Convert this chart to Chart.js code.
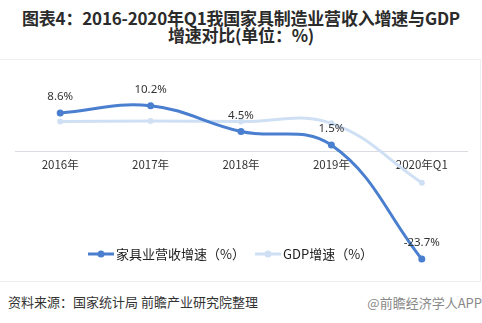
<!DOCTYPE html>
<html>
<head>
<meta charset="utf-8">
<script src="https://cdn.jsdelivr.net/npm/chart.js@4.4.1/dist/chart.umd.min.js"></script>
<style>
  html, body { margin: 0; padding: 0; background: #fff; }
  body { width: 482px; height: 323px; position: relative; overflow: hidden; font-family: "Noto Sans CJK SC", "Noto Sans", sans-serif; }
  .title { position: absolute; left: 0; top: 9px; width: 482px; text-align: center; font-weight: 700; font-size: 17px; line-height: 17px; color: #2b2b2b; letter-spacing: -0.2px; }
  .panel { position: absolute; left: -2px; top: 59px; width: 482px; height: 221px; border: 1px solid #eceef1; border-left: none; }
  .chart-wrap { position: absolute; left: 0; top: 60px; width: 482px; height: 220px; }
  .src { position: absolute; left: 8px; top: 292px; font-size: 13px; color: #333; }
  .wm { position: absolute; right: 0; top: 293px; font-size: 13px; color: #888; }
</style>
</head>
<body>
<div class="title">图表4：2016-2020年Q1我国家具制造业营收入增速与GDP<br>增速对比(单位：%)</div>
<div class="panel"></div>
<div class="chart-wrap"><canvas id="c" width="482" height="220"></canvas></div>
<div class="src">资料来源：国家统计局 前瞻产业研究院整理</div>
<div class="wm">@前瞻经济学人APP</div>
<script>
  const categories = ['2016年', '2017年', '2018年', '2019年', '2020年Q1'];
  const furnitureGrowth = [8.6, 10.2, 4.5, 1.5, -23.7];
  const gdpGrowth = [6.7, 6.8, 6.7, 6.3, -6.8];
  const seriesNames = ['家具业营收增速（%）', 'GDP增速（%）'];

  const BLUE = '#4a7fcf';
  const LIGHT = '#cfe0f4';

  const labelPlugin = {
    id: 'valueLabels',
    afterDatasetsDraw(chart) {
      const ctx = chart.ctx;
      const meta = chart.getDatasetMeta(0);
      ctx.save();
      ctx.font = '11.5px "Noto Sans", "Noto Sans CJK SC", sans-serif';
      ctx.fillStyle = '#333';
      ctx.textAlign = 'center';
      ctx.textBaseline = 'middle';
      meta.data.forEach((pt, i) => {
        ctx.fillText(furnitureGrowth[i].toFixed(1) + '%', pt.x, pt.y - 16);
      });
      ctx.restore();
    }
  };

  const legendPlugin = {
    id: 'bottomLegend',
    afterDraw(chart) {
      const ctx = chart.ctx;
      const y = 194;
      const items = [
        { x: 88, color: BLUE, text: seriesNames[0] },
        { x: 255, color: LIGHT, text: seriesNames[1] }
      ];
      ctx.save();
      ctx.font = '13px "Noto Sans CJK SC", sans-serif';
      ctx.textBaseline = 'middle';
      items.forEach(it => {
        ctx.strokeStyle = it.color;
        ctx.lineWidth = 3;
        ctx.beginPath();
        ctx.moveTo(it.x, y);
        ctx.lineTo(it.x + 26, y);
        ctx.stroke();
        ctx.fillStyle = it.color;
        ctx.beginPath();
        ctx.arc(it.x + 13, y, 3.5, 0, Math.PI * 2);
        ctx.fill();
        ctx.fillStyle = '#222';
        ctx.fillText(it.text, it.x + 28, y);
      });
      ctx.restore();
    }
  };

  new Chart(document.getElementById('c'), {
    type: 'line',
    data: {
      labels: categories,
      datasets: [
        { label: seriesNames[0], data: furnitureGrowth, borderColor: BLUE, backgroundColor: BLUE,
          borderWidth: 3, pointRadius: 3.5, pointBackgroundColor: BLUE, pointBorderWidth: 0, tension: 0.4, order: 1 },
        { label: seriesNames[1], data: gdpGrowth, borderColor: LIGHT, backgroundColor: LIGHT,
          borderWidth: 3, pointRadius: 3, pointBackgroundColor: LIGHT, pointBorderWidth: 0, tension: 0.4, order: 2 }
      ]
    },
    options: {
      responsive: false,
      animation: false,
      layout: { padding: { left: 15, right: 15, top: 24, bottom: 15 } },
      plugins: { legend: { display: false }, tooltip: { enabled: false } },
      scales: {
        y: { display: false, min: -25, max: 15 },
        x: {
          position: { y: 0 },
          offset: true,
          grid: { display: false, drawTicks: false },
          border: { display: true, color: '#d9dde3', width: 1 },
          ticks: { color: '#333', padding: 6, font: { size: 11.5, family: '"Noto Sans CJK SC", sans-serif' } }
        }
      }
    },
    plugins: [labelPlugin, legendPlugin]
  });
</script>
</body>
</html>
